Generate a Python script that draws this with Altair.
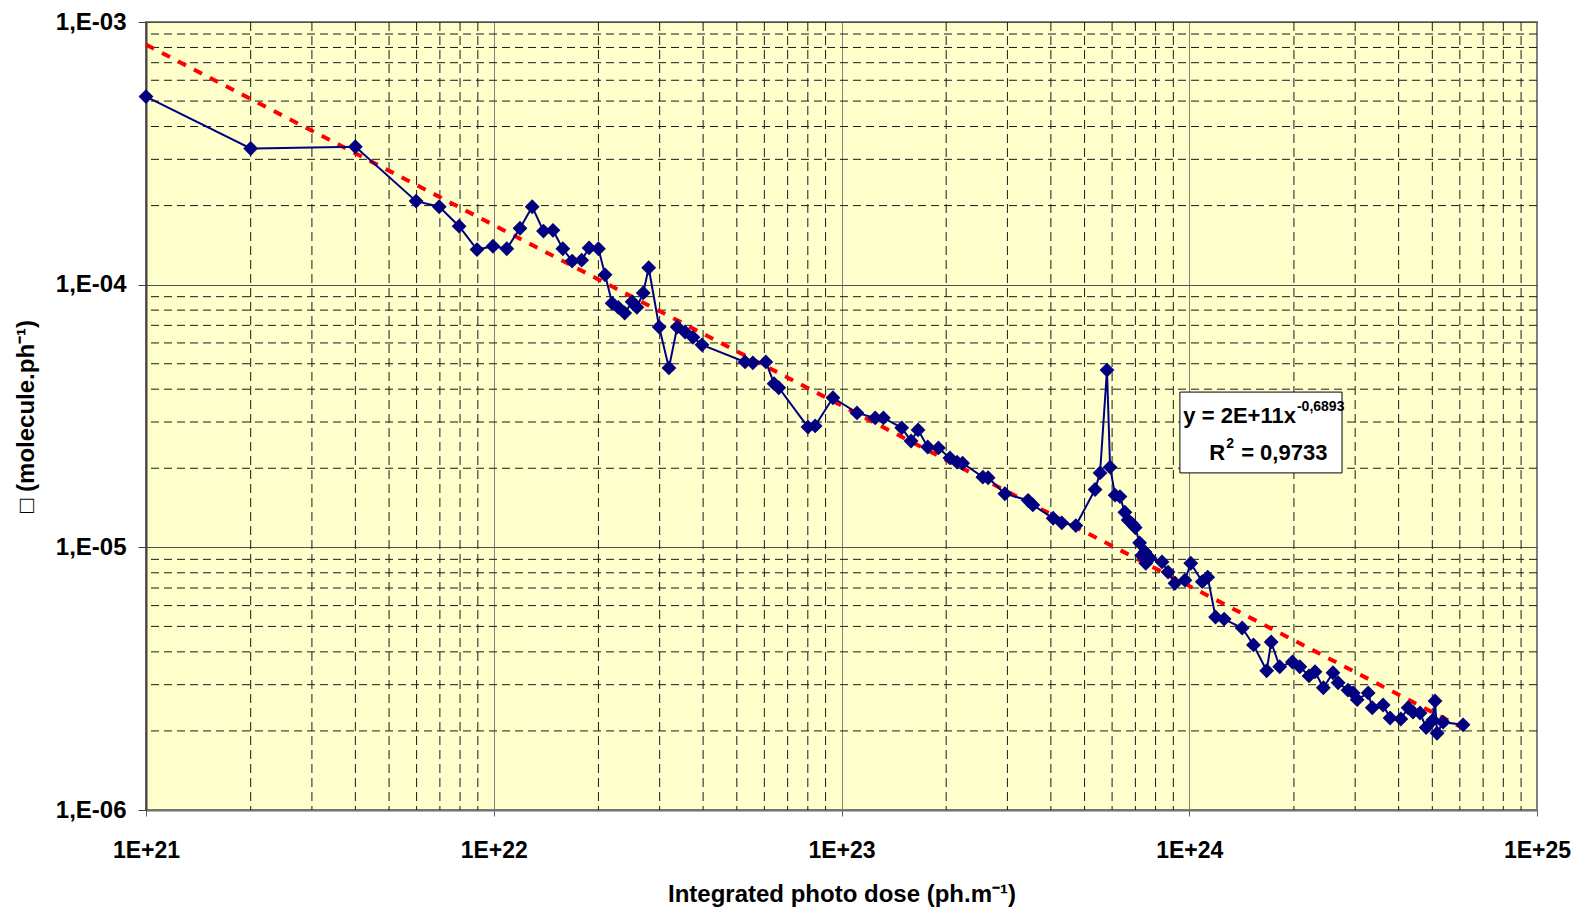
import altair as alt
import pandas as pd

# Measured series (photo dose, value)
dose = [1e21, 2e21, 4e21, 5.98e21, 6.97e21, 7.95e21, 8.95e21, 9.95e21, 1.09e22, 1.19e22,
        1.29e22, 1.39e22, 1.48e22, 1.58e22, 1.68e22, 1.79e22, 1.88e22, 2.0e22, 2.09e22, 2.19e22,
        2.28e22, 2.38e22, 2.5e22, 2.58e22, 2.69e22, 2.79e22, 2.99e22, 3.19e22, 3.37e22, 3.55e22,
        3.74e22, 3.97e22, 5.28e22, 5.56e22, 6.06e22, 6.4e22, 6.6e22, 8.01e22, 8.4e22, 9.45e22,
        1.108e23, 1.25e23, 1.32e23, 1.49e23, 1.585e23, 1.66e23, 1.77e23, 1.9e23, 2.05e23, 2.15e23,
        2.23e23, 2.55e23, 2.64e23, 2.95e23, 3.44e23, 3.55e23, 4.06e23, 4.3e23, 4.72e23, 5.36e23,
        5.54e23, 5.8e23, 5.92e23, 6.12e23, 6.32e23, 6.53e23, 6.67e23, 6.89e23, 6.99e23, 7.2e23,
        7.3e23, 7.46e23, 7.5e23, 7.71e23, 8.35e23, 8.69e23, 9.1e23, 9.72e23, 1.01e24, 1.09e24,
        1.13e24, 1.19e24, 1.26e24, 1.42e24, 1.53e24, 1.67e24, 1.72e24, 1.82e24, 1.98e24, 2.08e24,
        2.21e24, 2.3e24, 2.43e24, 2.59e24, 2.68e24, 2.86e24, 2.96e24, 3.04e24, 3.27e24, 3.36e24,
        3.61e24, 3.78e24, 4.06e24, 4.26e24, 4.4e24, 4.61e24, 4.8e24, 5.02e24, 5.09e24, 5.16e24,
        5.37e24, 6.13e24]
value = [5.2e-4, 3.3e-4, 3.35e-4, 2.08e-4, 1.98e-4, 1.67e-4, 1.36e-4, 1.40e-4, 1.37e-4, 1.64e-4,
         1.98e-4, 1.60e-4, 1.61e-4, 1.37e-4, 1.23e-4, 1.24e-4, 1.38e-4, 1.37e-4, 1.09e-4, 8.5e-5,
         8.2e-5, 7.8e-5, 8.6e-5, 8.2e-5, 9.3e-5, 1.16e-4, 6.9e-5, 4.82e-5, 6.9e-5, 6.6e-5,
         6.3e-5, 5.9e-5, 5.08e-5, 5.04e-5, 5.08e-5, 4.2e-5, 4.05e-5, 2.87e-5, 2.90e-5, 3.71e-5,
         3.25e-5, 3.11e-5, 3.11e-5, 2.85e-5, 2.54e-5, 2.8e-5, 2.41e-5, 2.39e-5, 2.19e-5, 2.11e-5,
         2.09e-5, 1.85e-5, 1.84e-5, 1.6e-5, 1.51e-5, 1.45e-5, 1.29e-5, 1.24e-5, 1.21e-5, 1.66e-5,
         1.92e-5, 4.73e-5, 2.02e-5, 1.58e-5, 1.56e-5, 1.36e-5, 1.27e-5, 1.22e-5, 1.19e-5, 1.04e-5,
         9.3e-6, 9.6e-6, 8.7e-6, 9.1e-6, 8.8e-6, 8.05e-6, 7.3e-6, 7.5e-6, 8.7e-6, 7.4e-6,
         7.7e-6, 5.43e-6, 5.33e-6, 4.93e-6, 4.25e-6, 3.39e-6, 4.36e-6, 3.51e-6, 3.66e-6, 3.51e-6,
         3.24e-6, 3.36e-6, 2.92e-6, 3.33e-6, 3.05e-6, 2.86e-6, 2.79e-6, 2.63e-6, 2.79e-6, 2.45e-6,
         2.51e-6, 2.24e-6, 2.22e-6, 2.45e-6, 2.36e-6, 2.34e-6, 2.06e-6, 2.2e-6, 2.6e-6, 1.96e-6,
         2.16e-6, 2.11e-6]

# Power trend line end points (y = 2E+11 x^-0.6893)
trend_dose = [1e21, 6.13e24]
trend_value = [8.2e-4, 2.05e-6]

x_major = [1e21, 1e22, 1e23, 1e24, 1e25]
y_major = [1e-6, 1e-5, 1e-4, 1e-3]
x_minor = [m * 10.0 ** e for e in range(21, 25) for m in range(2, 10)]
y_minor = [m * 10.0 ** e for e in range(-6, -3) for m in range(2, 10)]

FONT = "Liberation Sans"

df = pd.DataFrame({"dose": dose, "value": value, "order": list(range(len(dose)))})
tdf = pd.DataFrame({"dose": trend_dose, "value": trend_value})

xs = alt.Scale(type="log", domain=[1e21, 1e25], nice=False)
ys = alt.Scale(type="log", domain=[1e-6, 1e-3], nice=False)

x_axis = alt.Axis(
    values=x_major, labelExpr="'1E+' + round(log(datum.value)/LN10)",
    labelFont=FONT, labelFontWeight="bold", labelFontSize=23, labelColor="black",
    labelFlush=False, labelOverlap=False, labelPadding=23,
    tickSize=6, tickColor="#606060", domainColor="#707070", domainWidth=2,
    grid=True, gridColor="#808080", gridWidth=1,
    title="Integrated photo dose (ph.m⁻¹)", titleFont=FONT, titleFontWeight="bold",
    titleFontSize=24, titleColor="black", titlePadding=20,
)
y_axis = alt.Axis(
    values=y_major, labelExpr="'1,E-0' + round(-log(datum.value)/LN10)",
    labelFont=FONT, labelFontWeight="bold", labelFontSize=24, labelColor="black",
    labelFlush=False, labelOverlap=False, labelPadding=12,
    tickSize=8, tickColor="#404040", domainColor="#404040", domainWidth=2,
    grid=True, gridColor="#505050", gridWidth=1,
    title="□ (molecule.ph⁻¹)", titleFont=FONT, titleFontWeight="bold",
    titleFontSize=24, titleColor="black", titlePadding=17,
)

X = alt.X("dose:Q", scale=xs, axis=x_axis)
Y = alt.Y("value:Q", scale=ys, axis=y_axis)

xgrid = alt.Chart(pd.DataFrame({"dose": x_minor})).mark_rule(
    color="#1a1a1a", strokeDash=[9, 5], strokeWidth=1
).encode(x=X)

ygrid = alt.Chart(pd.DataFrame({"value": y_minor})).mark_rule(
    color="#1a1a1a", strokeDash=[8, 5], strokeWidth=1
).encode(y=Y)

trend = alt.Chart(tdf).mark_line(
    color="#FF0000", strokeDash=[9, 9], strokeWidth=4
).encode(x=X, y=Y)

line = alt.Chart(df).mark_line(color="#000080", strokeWidth=2).encode(
    x=X, y=Y, order="order:Q",
)
pts = alt.Chart(df).mark_point(
    shape="diamond", filled=True, size=220, color="#000080", opacity=1
).encode(x=X, y=Y)

# equation box
box_df = pd.DataFrame({"dose": [9.4e23], "x2": [2.75e24], "value": [3.9e-5], "y2": [1.92e-5]})
box = alt.Chart(box_df).mark_rect(fill="white", stroke="black", strokeWidth=1).encode(
    x=X, x2="x2:Q", y=Y, y2="y2:Q",
)

def txt(xv, yv, s, size=21, align="left", dx=0, dy=0):
    return alt.Chart(pd.DataFrame({"dose": [xv], "value": [yv], "t": [s]})).mark_text(
        font=FONT, fontWeight="bold", fontSize=size, color="black",
        align=align, baseline="middle", dx=dx, dy=dy,
    ).encode(x=X, y=Y, text="t:N")

eq1a = txt(2.0e24, 3.16e-5, "y = 2E+11x", size=22, align="right", dx=2)
eq1b = txt(2.0e24, 3.16e-5, "-0,6893", size=14, align="left", dx=3, dy=-9)
eq2a = txt(1.41e24, 2.29e-5, "R", size=22, align="right", dx=-16)
eq2b = txt(1.41e24, 2.29e-5, "2", size=14, align="left", dx=-15, dy=-9)
eq2c = txt(1.41e24, 2.29e-5, "= 0,9733", size=22, align="left", dx=0)

chart = alt.layer(xgrid, ygrid, trend, line, pts, box, eq1a, eq1b, eq2a, eq2b, eq2c).properties(
    width=1391, height=788,
    background="white",
    autosize=alt.AutoSizeParams(type="none"),
    padding={"left": 146, "top": 22, "right": 41, "bottom": 99},
).configure_view(fill="#FFFFCC", stroke="#808080", strokeWidth=2)

chart.save("out.html", embed_options={"renderer": "svg", "actions": False})
